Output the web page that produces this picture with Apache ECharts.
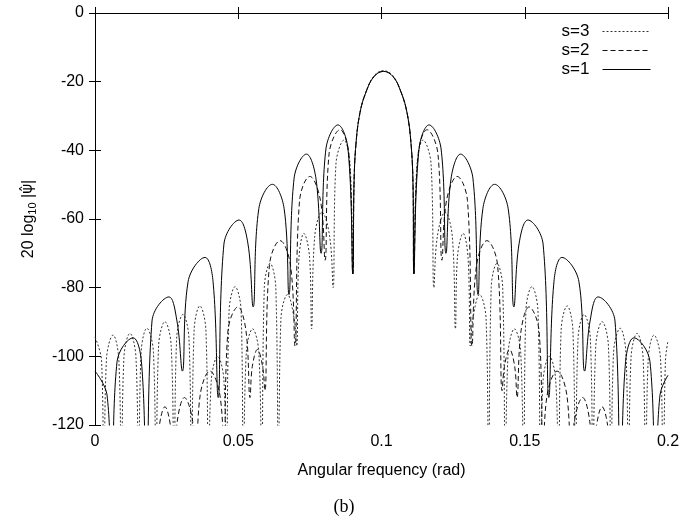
<!DOCTYPE html>
<html><head><meta charset="utf-8">
<script src="https://cdn.jsdelivr.net/npm/echarts@6/dist/echarts.min.js"></script>
<style>html,body{margin:0;padding:0;background:#fff}#c{width:688px;height:516px}</style>
</head><body><div id="c"></div><script>
const seriesNames = ['s=3', 's=2', 's=1'];
const xAxisTitle = 'Angular frequency (rad)';
const yAxisTitle = '20 log{sub|10} |{psi|\u03C8\u0302}|';
const caption = '(b)';
const xMin = 0, xMax = 0.2, xStep = 0.05;
const yMin = -120, yMax = 0, yStep = 20;

// s=1 (solid)
const s1 = [
[0,-104.3],[0.0042,-111.3],[0.0058,-140],
[0.0077,-101.5],[0.0133,-94.6],[0.0162,-101.5],[0.0180,-140],
[0.0199,-89.7],[0.0258,-82.7],[0.0286,-89.7],[0.0305,-104.3],
[0.0325,-78.2],[0.0384,-71.2],[0.0412,-78.2],[0.0430,-112],
[0.0450,-67.3],[0.0503,-60.3],[0.0534,-67.3],[0.0552,-85.6],
[0.0572,-56.9],[0.0619,-49.9],[0.0660,-56.9],[0.0677,-82],
[0.0695,-48.1],[0.0738,-41.1],[0.0771,-48.1],[0.0789,-70],
[0.0806,-39.6],[0.0848,-32.6],[0.0883,-39.6],[0.0900,-76],
[0.0904,-50],[0.0911,-38],[0.0925,-29],[0.0946,-23],[0.0974,-18.5],[0.1007,-17],[0.1040,-18.5],[0.1068,-23],[0.1089,-29],[0.1103,-38],[0.1110,-50],[0.1113,-76],
[0.1131,-39.6],[0.1166,-32.6],[0.1208,-39.6],[0.1225,-70],
[0.1243,-48.1],[0.1276,-41.1],[0.1319,-48.1],[0.1337,-82],
[0.1354,-56.9],[0.1395,-49.9],[0.1442,-56.9],[0.1462,-85.6],
[0.1480,-67.3],[0.1511,-60.3],[0.1564,-67.3],[0.1584,-112],
[0.1602,-78.2],[0.1630,-71.2],[0.1689,-78.2],[0.1709,-104.3],
[0.1728,-89.7],[0.1756,-82.7],[0.1815,-89.7],[0.1834,-140],
[0.1852,-101.5],[0.1881,-94.6],[0.1937,-101.5],[0.1956,-140],
[0.1972,-111.3],[0.2,-105.5]
];

// s=2 (dashed)
const s2 = [
[0,-124],[0.0031,-135],[0.0063,-123],[0.0092,-135],[0.0122,-122],[0.0152,-135],[0.0181,-121],[0.0213,-135],
[0.0222,-121.7],[0.0244,-114.7],[0.0266,-121.7],[0.0276,-135],
[0.0287,-119],[0.0312,-112],[0.0341,-119],[0.0352,-135],
[0.0367,-111.3],[0.0401,-104.3],[0.0436,-111.3],[0.0450,-130],
[0.0464,-92.6],[0.0499,-85.6],[0.0527,-92.6],[0.0541,-112],
[0.0549,-103],[0.0567,-98],[0.0585,-103],[0.0593,-110],
[0.0609,-73.3],[0.0646,-66.3],[0.0682,-73.3],[0.0698,-97],
[0.0714,-54.6],[0.0750,-47.6],[0.0787,-54.6],[0.0803,-72],
[0.0817,-41],[0.0855,-34],[0.0886,-41],[0.0900,-76],
[0.0904,-50],[0.0911,-38],[0.0925,-29],[0.0946,-23],[0.0974,-18.5],[0.1007,-17],[0.1040,-18.5],[0.1068,-23],[0.1089,-29],[0.1103,-38],[0.1110,-50],[0.1113,-76],
[0.1128,-41],[0.1159,-34],[0.1197,-41],[0.1211,-72],
[0.1227,-54.6],[0.1264,-47.6],[0.1300,-54.6],[0.1316,-97],
[0.1332,-73.3],[0.1368,-66.3],[0.1405,-73.3],[0.1421,-110],
[0.1429,-103],[0.1447,-98],[0.1465,-103],[0.1473,-112],
[0.1487,-92.6],[0.1515,-85.6],[0.1550,-92.6],[0.1564,-130],
[0.1578,-111.3],[0.1613,-104.3],[0.1647,-111.3],[0.1662,-135],
[0.1673,-119],[0.1702,-112],[0.1727,-119],[0.1738,-135],
[0.1748,-121.7],[0.1770,-114.7],[0.1792,-121.7],[0.1801,-135],
[0.1833,-121],[0.1862,-135],[0.1892,-122],[0.1922,-135],[0.1951,-123],[0.1983,-135],[0.2,-124]
];

// s=3 (dotted)
const s3 = [
[0,-94.4],[0.0023,-101.4],[0.0031,-140],
[0.0040,-100.8],[0.0063,-93.8],[0.0083,-100.8],[0.0092,-140],
[0.0101,-100.3],[0.0122,-93.3],[0.0143,-100.3],[0.0152,-140],
[0.0161,-98.8],[0.0181,-91.8],[0.0204,-98.8],[0.0213,-140],
[0.0222,-96.9],[0.0244,-89.9],[0.0266,-96.9],[0.0276,-140],
[0.0285,-94.8],[0.0307,-87.8],[0.0328,-94.8],[0.0337,-140],
[0.0346,-92.3],[0.0366,-85.3],[0.0387,-92.3],[0.0396,-140],
[0.0406,-107],[0.0428,-100],[0.0450,-107],[0.0459,-140],
[0.0468,-86.7],[0.0489,-79.7],[0.0510,-86.7],[0.0518,-140],
[0.0528,-99],[0.0550,-92],[0.0572,-99],[0.0582,-140],
[0.0591,-79.9],[0.0611,-72.9],[0.0631,-79.9],[0.0640,-140],
[0.0649,-89],[0.0672,-82],[0.0695,-89],[0.0704,-97],
[0.0712,-71.2],[0.0729,-64.2],[0.0749,-71.2],[0.0756,-92],
[0.0767,-65],[0.0792,-58],[0.0819,-65],[0.0831,-80],
[0.0841,-44],[0.0869,-37],[0.0890,-44],[0.0900,-76],
[0.0904,-50],[0.0911,-38],[0.0925,-29],[0.0946,-23],[0.0974,-18.3],[0.1007,-16.8],[0.1040,-18.3],[0.1068,-23],[0.1089,-29],[0.1103,-38],[0.1110,-50],[0.1113,-76],
[0.1124,-44],[0.1145,-37],[0.1173,-44],[0.1183,-80],
[0.1195,-65],[0.1222,-58],[0.1247,-65],[0.1258,-92],
[0.1265,-71.2],[0.1285,-64.2],[0.1302,-71.2],[0.1310,-97],
[0.1319,-89],[0.1342,-82],[0.1365,-89],[0.1374,-140],
[0.1383,-79.9],[0.1403,-72.9],[0.1423,-79.9],[0.1432,-140],
[0.1442,-99],[0.1464,-92],[0.1486,-99],[0.1496,-140],
[0.1504,-86.7],[0.1525,-79.7],[0.1546,-86.7],[0.1555,-140],
[0.1564,-107],[0.1586,-100],[0.1608,-107],[0.1618,-140],
[0.1627,-92.3],[0.1648,-85.3],[0.1668,-92.3],[0.1677,-140],
[0.1686,-94.8],[0.1707,-87.8],[0.1729,-94.8],[0.1738,-140],
[0.1748,-96.9],[0.1770,-89.9],[0.1792,-96.9],[0.1801,-140],
[0.1810,-98.8],[0.1833,-91.8],[0.1853,-98.8],[0.1862,-140],
[0.1871,-100.3],[0.1892,-93.3],[0.1913,-100.3],[0.1922,-140],
[0.1931,-100.8],[0.1951,-93.8],[0.1974,-100.8],[0.1983,-140],
[0.1991,-101.4],[0.2,-95.5]
];

const font = 'Liberation Sans, Arial, sans-serif';
const chart = echarts.init(document.getElementById('c'), null, {renderer: 'canvas'});
const axisCommon = {
  type: 'value',
  axisLine: {show: true, lineStyle: {color: '#000', width: 1}},
  axisTick: {show: true, inside: true, length: 6, lineStyle: {color: '#000'}},
  splitLine: {show: false}
};
chart.setOption({
  animation: false,
  backgroundColor: '#fff',
  title: {
    text: caption, left: 'center', top: 493,
    textStyle: {fontFamily: 'Liberation Serif, Times New Roman, serif', fontSize: 18, fontWeight: 'normal', color: '#000'}
  },
  legend: {
    data: seriesNames, orient: 'vertical', right: 32, top: 18,
    align: 'right', itemWidth: 48, itemHeight: 14, itemGap: 2,
    itemStyle: {opacity: 0},
    lineStyle: {width: 1},
    textStyle: {fontFamily: font, fontSize: 17, color: '#000', padding: [0, 8, 0, 0]}
  },
  grid: {left: 95, right: 20, top: 13, bottom: 91, containLabel: false},
  xAxis: [
    Object.assign({}, axisCommon, {
      min: xMin, max: xMax, interval: xStep, position: 'bottom',
      name: xAxisTitle, nameLocation: 'middle', nameGap: 38,
      nameTextStyle: {fontFamily: font, fontSize: 16, color: '#000'},
      axisLabel: {fontFamily: font, fontSize: 16, color: '#000', margin: 9}
    }),
    Object.assign({}, axisCommon, {
      min: xMin, max: xMax, interval: xStep, position: 'top', axisLabel: {show: false}
    })
  ],
  yAxis: [
    Object.assign({}, axisCommon, {
      min: yMin, max: yMax, interval: yStep, position: 'left',
      name: yAxisTitle, nameLocation: 'middle', nameGap: 57,
      nameTextStyle: {
        fontFamily: font, fontSize: 16, color: '#000',
        rich: {
          sub: {fontFamily: font, fontSize: 11, color: '#000', padding: [8, 0, 0, 0]},
          psi: {fontFamily: 'DejaVu Sans', fontSize: 15, color: '#000'}
        }
      },
      axisLabel: {fontFamily: font, fontSize: 16, color: '#000', margin: 11}
    }),
    Object.assign({}, axisCommon, {
      min: yMin, max: yMax, interval: yStep, position: 'right', axisLabel: {show: false}
    })
  ],
  series: [
    {name: 's=3', type: 'line', data: s3, symbol: 'none', smooth: 0.4, clip: true,
     lineStyle: {color: '#333', width: 1, type: [2, 2]}, itemStyle: {color: '#333'}},
    {name: 's=2', type: 'line', data: s2, symbol: 'none', smooth: 0.4, clip: true,
     lineStyle: {color: '#111', width: 1, type: [5, 3]}, itemStyle: {color: '#111'}},
    {name: 's=1', type: 'line', data: s1, symbol: 'none', smooth: 0.4, clip: true,
     lineStyle: {color: '#000', width: 1, type: 'solid'}, itemStyle: {color: '#000'}}
  ]
});
</script></body></html>
